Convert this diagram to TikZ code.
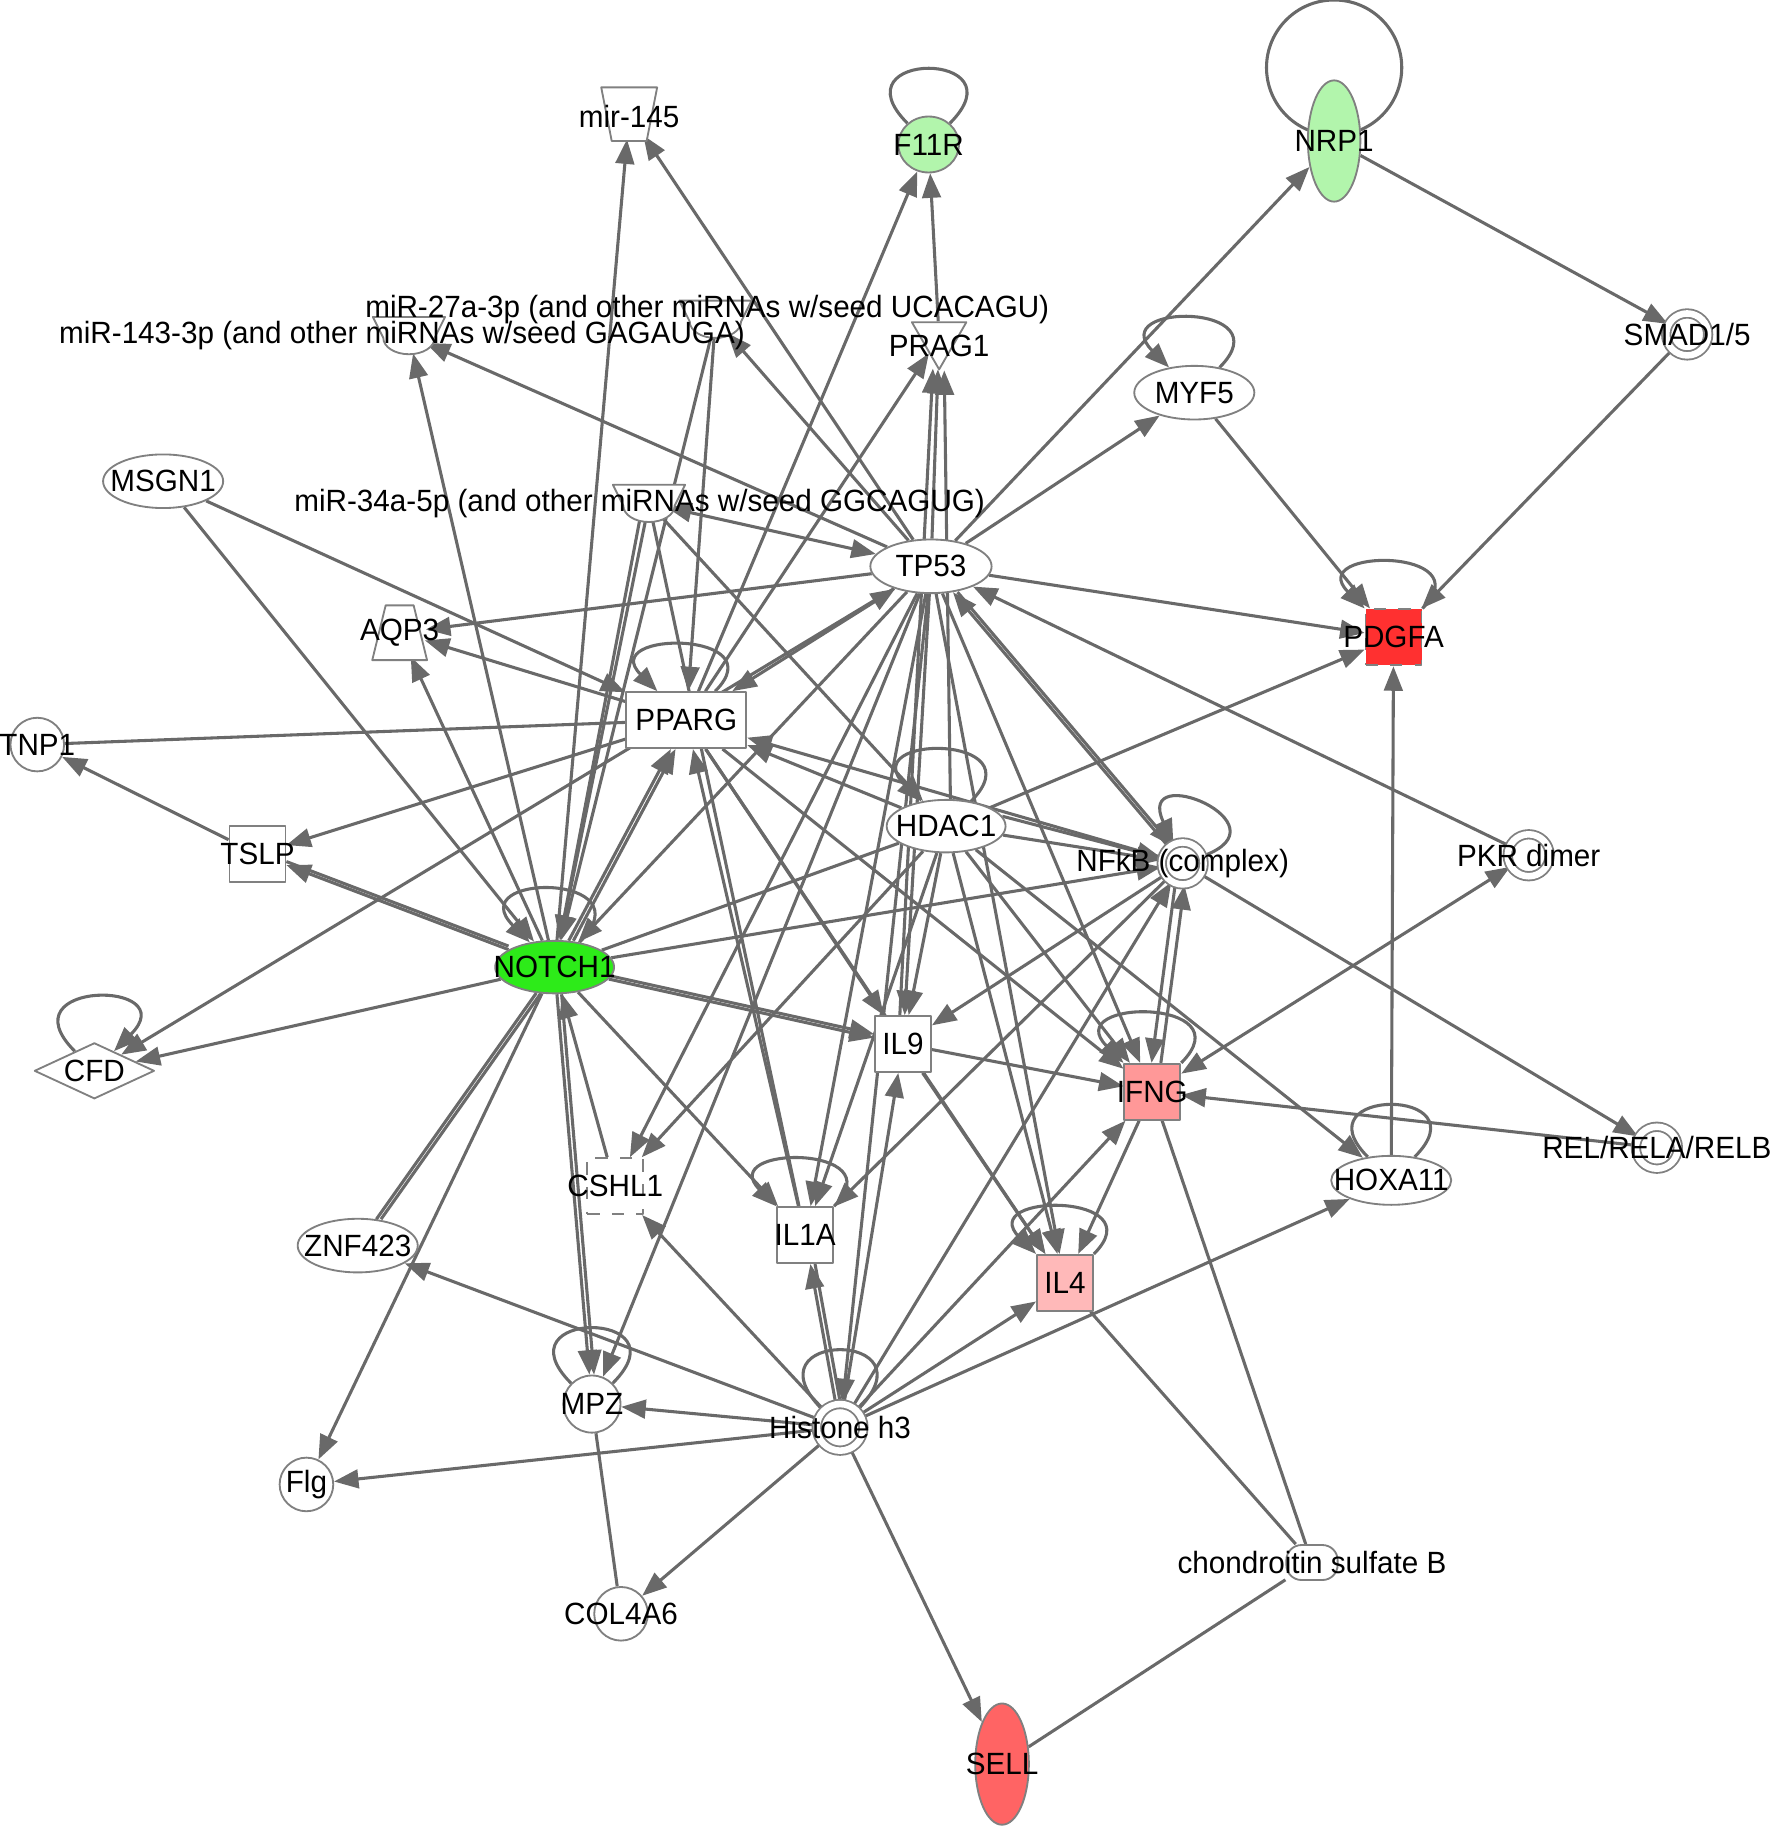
\documentclass[tikz,border=0pt]{standalone}
\usepackage{fontspec}
\setmainfont{Liberation Sans}[FakeStretch=0.965]
\usetikzlibrary{shapes.geometric,arrows.meta,backgrounds}
\definecolor{edgecol}{RGB}{105,105,105}
\definecolor{bordercol}{RGB}{128,128,128}
\definecolor{palegreen}{RGB}{178,245,172}
\definecolor{brightgreen}{RGB}{45,235,25}
\definecolor{strongred}{RGB}{255,48,48}
\definecolor{midred}{RGB}{255,100,100}
\definecolor{pinkish}{RGB}{255,152,152}
\definecolor{lightpink}{RGB}{255,185,185}
\newcommand{\mirshape}[1]{%
  \draw[draw=bordercol, fill=white, line width=0.45pt] (#1) ++(-31,-16) -- ++(62,0) -- ++(-9,18)
    arc[start angle=0, end angle=-180, x radius=0.22cm, y radius=0.14cm] -- cycle;}
\newcommand{\trapshape}[4]{%
  \draw[draw=bordercol, fill=white, line width=0.45pt] (#1) ++({-#2/2},{-#4/2}) -- ++(#2,0)
    -- ++({-(#2-#3)/2},#4) -- ++({-#3},0) -- cycle;}
\begin{document}
\begin{tikzpicture}[x=0.01cm, y=-0.01cm, line join=round]
\tikzset{lbl/.style={font=\fontsize{7.5}{9}\selectfont, inner sep=0pt},
  gene/.style={draw=bordercol, line width=0.45pt, fill=white, inner sep=0pt},
  ell/.style={gene, ellipse, minimum width=1.03cm, minimum height=0.46cm},
  sq/.style={gene, rectangle, minimum width=0.48cm, minimum height=0.48cm},
  cir/.style={gene, circle, minimum size=0.46cm},
  cpx/.style={gene, circle, double=white, double distance=1.6pt, minimum size=0.36cm},
  mir/.style={circle, inner sep=0pt, minimum size=0.3cm},
  rel/.style={draw=edgecol, line width=0.75pt, -{Triangle[length=2.1mm,width=1.6mm]}},
  both/.style={rel, {Triangle[length=2.1mm,width=1.6mm]}-{Triangle[length=2.1mm,width=1.6mm]}},
  plain/.style={draw=edgecol, line width=0.75pt},
  selfloop/.style={out=45, in=135, min distance=#1}}
\useasboundingbox (0,0) rectangle (1519,1568);

\node[mir, minimum size=0.42cm] (mir145) at (540,98) {};
\trapshape{mir145}{48}{30}{46}
\node[lbl] (mir145txt) at (540,100) {mir-145};
\node[ell, fill=palegreen, minimum width=0.52cm, minimum height=0.48cm, label={[lbl]center:F11R}] (f11r) at (797,124) {};
\node[ell, fill=palegreen, minimum width=0.45cm, minimum height=1.04cm, label={[lbl]center:NRP1}] (nrp1) at (1145,121) {};
\node[cpx, label={[lbl]center:SMAD1/5}] (smad) at (1448,287) {};
\node[ell, label={[lbl]center:MYF5}] (myf5) at (1025,337) {};
\node[gene, regular polygon, regular polygon sides=3, shape border rotate=180, minimum size=0.54cm, label={[lbl,yshift=-0.07cm]center:PRAG1}] (prag1) at (806,290) {};
\node[mir] (mir143) at (351,288) {};
\node[mir] (mir27) at (614,274) {};
\node[mir] (mir34) at (557,432) {};
\mirshape{mir143}
\mirshape{mir27}
\mirshape{mir34}
\node[lbl] (mir143txt) at (345,288) {miR-143-3p (and other miRNAs w/seed GAGAUGA)};
\node[lbl] (mir27txt) at (607,266) {miR-27a-3p (and other miRNAs w/seed UCACAGU)};
\node[lbl] (mir34txt) at (549,432) {miR-34a-5p (and other miRNAs w/seed GGCAGUG)};
\node[ell, label={[lbl]center:MSGN1}] (msgn1) at (140,413) {};
\node[ell, minimum width=1.04cm, label={[lbl]center:TP53}] (tp53) at (799,486) {};
\node[sq, fill=strongred, dashed, label={[lbl]center:PDGFA}] (pdgfa) at (1196,547) {};
\node[mir, minimum size=0.44cm] (aqp3) at (343,543) {};
\trapshape{aqp3}{24}{47}{47}
\node[lbl] (aqp3txt) at (343,543) {AQP3};
\node[sq, minimum width=1.03cm, label={[lbl]center:PPARG}] (pparg) at (589,618) {};
\node[cir, label={[lbl]center:TNP1}] (tnp1) at (32,639) {};
\node[sq, label={[lbl]center:TSLP}] (tslp) at (221,733) {};
\node[ell, minimum width=1.02cm, minimum height=0.45cm, label={[lbl]center:HDAC1}] (hdac1) at (812,709) {};
\node[cpx, label={[lbl]center:NFkB (complex)}] (nfkb) at (1015,741) {};
\node[cpx, label={[lbl]center:PKR dimer}] (pkr) at (1312,734) {};
\node[ell, fill=brightgreen, minimum width=1.02cm, minimum height=0.45cm, label={[lbl]center:NOTCH1}] (notch1) at (476,830) {};
\node[gene, diamond, aspect=2, minimum width=1.03cm, minimum height=0.48cm, label={[lbl]center:CFD}] (cfd) at (81,919) {};
\node[sq, label={[lbl]center:IL9}] (il9) at (775,896) {};
\node[sq, fill=pinkish, label={[lbl]center:IFNG}] (ifng) at (989,937) {};
\node[cpx, label={[lbl]center:REL/RELA/RELB}] (relb) at (1422,985) {};
\node[ell, minimum height=0.42cm, label={[lbl]center:HOXA11}] (hoxa11) at (1194,1013) {};
\node[sq, dashed, label={[lbl]center:CSHL1}] (cshl1) at (528,1018) {};
\node[sq, label={[lbl]center:IL1A}] (il1a) at (691,1060) {};
\node[ell, label={[lbl]center:ZNF423}] (znf423) at (307,1069) {};
\node[sq, fill=lightpink, label={[lbl]center:IL4}] (il4) at (914,1101) {};
\node[cir, minimum size=0.49cm, label={[lbl]center:MPZ}] (mpz) at (508,1205) {};
\node[cpx, minimum size=0.4cm, label={[lbl]center:Histone h3}] (histone) at (721,1225) {};
\node[cir, label={[lbl]center:Flg}] (flg) at (263,1274) {};
\node[cir, label={[lbl]center:COL4A6}] (col4a6) at (533,1385) {};
\node[gene, rounded corners=0.13cm, minimum width=0.44cm, minimum height=0.3cm, label={[lbl]center:chondroitin sulfate B}] (chondb) at (1126,1341) {};
\node[ell, fill=midred, minimum width=0.46cm, minimum height=1.04cm, label={[lbl]center:SELL}] (sell) at (860,1514) {};

\begin{scope}[on background layer]
\draw[plain] (1145,58) circle (0.58cm);
\draw[plain] (f11r) to[selfloop=0.89cm] (f11r);
\draw[rel] (myf5) to[selfloop=0.79cm] (myf5);
\draw[rel] (pdgfa) to[selfloop=0.74cm] (pdgfa);
\draw[rel] (pparg) to[selfloop=0.74cm] (pparg);
\draw[rel] (hdac1) to[selfloop=0.82cm] (hdac1);
\draw[rel] (nfkb) to[selfloop=0.8cm, out=20, in=115] (nfkb);
\draw[rel] (notch1) to[selfloop=0.85cm] (notch1);
\draw[rel] (cfd) to[selfloop=0.87cm, out=135, in=45] (cfd);
\draw[rel] (ifng) to[selfloop=0.79cm] (ifng);
\draw[plain] (hoxa11) to[selfloop=0.85cm] (hoxa11);
\draw[rel] (il1a) to[selfloop=0.75cm] (il1a);
\draw[rel] (il4) to[selfloop=0.75cm] (il4);
\draw[plain] (mpz) to[selfloop=0.9cm] (mpz);
\draw[plain] (histone) to[selfloop=0.98cm] (histone);

\draw[rel] (notch1) -- (mir145);
\draw[rel] (tp53) -- (mir145);
\draw[rel] (pparg) -- (f11r);
\draw[rel] (prag1) -- (f11r);
\draw[rel] (tp53) -- (nrp1);
\draw[rel] (nrp1) -- (smad);
\draw[rel] (smad) -- (pdgfa);
\draw[rel] (myf5) -- (pdgfa);
\draw[rel] (tp53) -- (myf5);
\draw[rel] (tp53) -- (pdgfa);
\draw[rel] (hoxa11) -- (pdgfa);
\draw[rel] (hdac1) -- (pdgfa);
\draw[rel] (tp53) -- (prag1);
\draw[rel, transform canvas={xshift=0.04cm}] (hdac1) -- (prag1);
\draw[rel, transform canvas={xshift=-0.04cm}] (il9) -- (prag1);
\draw[rel] (pparg) -- (prag1);
\draw[rel] (tp53) -- (mir27);
\draw[rel] (mir27) -- (pparg);
\draw[rel] (mir27) -- (notch1);
\draw[rel] (tp53) -- (mir143);
\draw[rel] (notch1) -- (mir143);
\draw[both] (mir34) -- (tp53);
\draw[rel] (mir34) -- (hdac1);
\draw[rel] (mir34) -- (notch1);
\draw[rel] (mir34.240) -- (notch1);
\draw[plain] (mir34) -- (il1a);
\draw[rel] (msgn1) -- (notch1);
\draw[rel] (msgn1) -- (pparg);
\draw[rel] (tp53) -- (aqp3);
\draw[rel] (pparg) -- (aqp3);
\draw[rel] (notch1) -- (aqp3);
\draw[plain] (pparg) -- (tnp1);
\draw[rel] (tslp) -- (tnp1);
\draw[rel] (pparg) -- (tslp);
\draw[rel] (notch1) -- (tslp);
\draw[plain, transform canvas={yshift=0.03cm}] (notch1) -- (tslp);
\draw[rel] (tp53) -- (cfd);
\draw[rel] (notch1) -- (cfd);
\draw[plain] (notch1) -- (znf423);
\draw[plain, transform canvas={xshift=0.04cm}] (notch1) -- (znf423);
\draw[rel] (notch1) -- (flg);
\draw[rel] (notch1) -- (mpz);
\draw[rel, transform canvas={xshift=0.04cm}] (notch1) -- (mpz);
\draw[rel] (tp53) -- (mpz);
\draw[rel] (cshl1) -- (notch1);
\draw[rel] (tp53) -- (cshl1);
\draw[rel] (hdac1) -- (cshl1);
\draw[rel] (notch1) -- (il1a);
\draw[rel] (tp53) -- (il1a);
\draw[rel] (hdac1) -- (il1a);
\draw[rel] (nfkb) -- (il1a);
\draw[rel] (il1a) -- (pparg);
\draw[rel] (notch1) -- (il9);
\draw[rel, transform canvas={yshift=0.03cm}] (notch1) -- (il9);
\draw[rel] (pparg) -- (il9);
\draw[rel] (tp53) -- (il9);
\draw[rel] (hdac1) -- (il9);
\draw[rel] (nfkb) -- (il9);
\draw[rel] (il9) -- (ifng);
\draw[rel] (il9) -- (il4);
\draw[rel] (hdac1) -- (pparg);
\draw[rel] (nfkb) -- (pparg);
\draw[rel] (hdac1) -- (nfkb);
\draw[rel] (hdac1.10) -- (nfkb);
\draw[rel] (hdac1) -- (hoxa11);
\draw[rel] (hdac1) -- (ifng);
\draw[rel] (hdac1) -- (il4);
\draw[rel] (tp53) -- (il4);
\draw[plain] (notch1) -- (hdac1);
\draw[rel] (notch1) -- (nfkb);
\draw[both] (tp53) -- (pparg);
\draw[rel] (notch1) -- (pparg);
\draw[rel, transform canvas={xshift=0.04cm}] (notch1) -- (pparg);
\draw[rel] (tp53) -- (notch1);
\draw[rel] (nfkb) -- (tp53);
\draw[rel, transform canvas={xshift=0.04cm}] (tp53) -- (nfkb);
\draw[rel] (pkr) -- (tp53);
\draw[both] (ifng) -- (pkr);
\draw[rel] (nfkb) -- (relb);
\draw[rel] (relb) -- (ifng);
\draw[rel, transform canvas={xshift=-0.04cm}] (nfkb) -- (ifng);
\draw[rel, transform canvas={xshift=0.04cm}] (ifng) -- (nfkb);
\draw[rel] (ifng) -- (il4);
\draw[rel] (histone) -- (znf423);
\draw[rel] (histone) -- (flg);
\draw[rel] (histone) -- (mpz);
\draw[rel] (histone) -- (col4a6);
\draw[plain] (mpz) -- (col4a6);
\draw[rel] (histone) -- (cshl1);
\draw[rel] (histone) -- (il1a);
\draw[plain, transform canvas={xshift=0.04cm}] (histone) -- (il1a);
\draw[rel] (histone) -- (il9);
\draw[rel] (tp53) -- (histone);
\draw[rel] (histone) -- (ifng);
\draw[rel] (histone) -- (il4);
\draw[rel] (histone) -- (hoxa11);
\draw[rel] (histone) -- (nfkb);
\draw[rel] (histone) -- (sell);
\draw[rel] (pparg) -- (ifng);
\draw[rel] (pparg) -- (il4);
\draw[rel] (tp53) -- (ifng);
\draw[plain] (il4) -- (chondb);
\draw[plain] (ifng) -- (chondb);
\draw[plain] (chondb) -- (sell);
\end{scope}
\end{tikzpicture}
\end{document}
